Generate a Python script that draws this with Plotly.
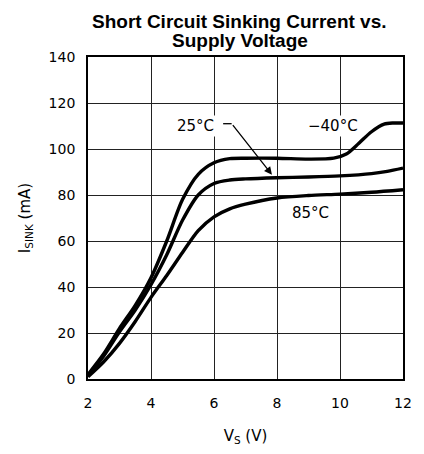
import plotly.graph_objects as go

vs_m40 = [2, 2.5, 3, 3.5, 4, 4.5, 5, 5.5, 6, 6.5, 7, 8, 9, 9.8, 10.2, 10.6, 11, 11.4, 11.7, 12]
i_m40 = [2, 11, 22, 32, 44, 60, 78, 89, 94, 95.8, 96, 96, 95.6, 96, 97.8, 102.5, 107.5, 110.8, 111.3, 111.3]

vs_25 = [2, 2.5, 3, 3.5, 4, 4.5, 5, 5.5, 6, 6.5, 7, 8, 9, 10, 11, 11.5, 12]
i_25 = [1.5, 10, 20.5, 30, 41, 54, 69, 80, 85, 86.5, 87, 87.5, 87.8, 88.3, 89.3, 90.3, 91.7]

vs_85 = [2, 2.5, 3, 3.5, 4, 4.5, 5, 5.5, 6, 6.5, 7, 8, 9, 10, 11, 12]
i_85 = [1, 7.5, 15.5, 25, 35.5, 45, 55, 64.5, 70.5, 74, 76, 78.7, 79.8, 80.4, 81.2, 82.3]

x_ticks = [2, 4, 6, 8, 10, 12]
y_ticks = [0, 20, 40, 60, 80, 100, 120, 140]

FONT = "DejaVu Sans"

fig = go.Figure()
for xs, ys in [(vs_m40, i_m40), (vs_25, i_25), (vs_85, i_85)]:
    fig.add_trace(go.Scatter(x=xs, y=ys, mode="lines",
                             line=dict(color="black", width=3.4, shape="spline", smoothing=0.8),
                             showlegend=False, hoverinfo="skip"))

fig.update_layout(
    width=416, height=446,
    margin=dict(l=80, r=14, t=49, b=75),
    paper_bgcolor="white", plot_bgcolor="white",
    font=dict(family=FONT, size=14, color="black"),
    xaxis=dict(range=[2, 12], tickvals=x_ticks, showgrid=True, gridcolor="#222", gridwidth=1.4,
               zeroline=False, showline=True, linecolor="black", linewidth=1.8, mirror=True,
               ticks="", ticklabelstandoff=10,
               title=dict(text="V<sub>S</sub> (V)", standoff=21, font=dict(size=15))),
    yaxis=dict(range=[0, 140], tickvals=y_ticks, showgrid=True, gridcolor="#222", gridwidth=1.4,
               zeroline=False, showline=True, linecolor="black", linewidth=1.8, mirror=True,
               ticks="", ticklabelstandoff=8,
               title=dict(text="I<sub>SINK</sub> (mA)", standoff=14, font=dict(size=15))),
)

fig.add_annotation(x=0.481, y=1, xref="paper", yref="paper", yanchor="bottom", yshift=24,
                   borderpad=0, text="<b>Short Circuit Sinking Current vs.</b>", showarrow=False,
                   font=dict(family="Liberation Sans", size=19, color="black"))
fig.add_annotation(x=0.481, y=1, xref="paper", yref="paper", yanchor="bottom", yshift=5,
                   borderpad=0, text="<b>Supply Voltage</b>", showarrow=False,
                   font=dict(family="Liberation Sans", size=19, color="black"))

fig.add_annotation(x=5.4, y=110, text="25°C", showarrow=False, bgcolor="white",
                   font=dict(family=FONT, size=15))
fig.add_annotation(x=9.77, y=110, text="−40°C", showarrow=False, bgcolor="white",
                   font=dict(family=FONT, size=15))
fig.add_annotation(x=9.05, y=72, text="85°C", showarrow=False, bgcolor="white",
                   font=dict(family=FONT, size=15))
fig.add_shape(type="line", x0=6.29, y0=111, x1=6.56, y1=111, line=dict(color="black", width=1.3))
fig.add_annotation(x=7.84, y=88.8, ax=6.56, ay=111, axref="x", ayref="y", text="",
                   showarrow=True, arrowhead=2, arrowsize=1.2, arrowwidth=1.3, arrowcolor="black")

fig.write_html("out.html")
